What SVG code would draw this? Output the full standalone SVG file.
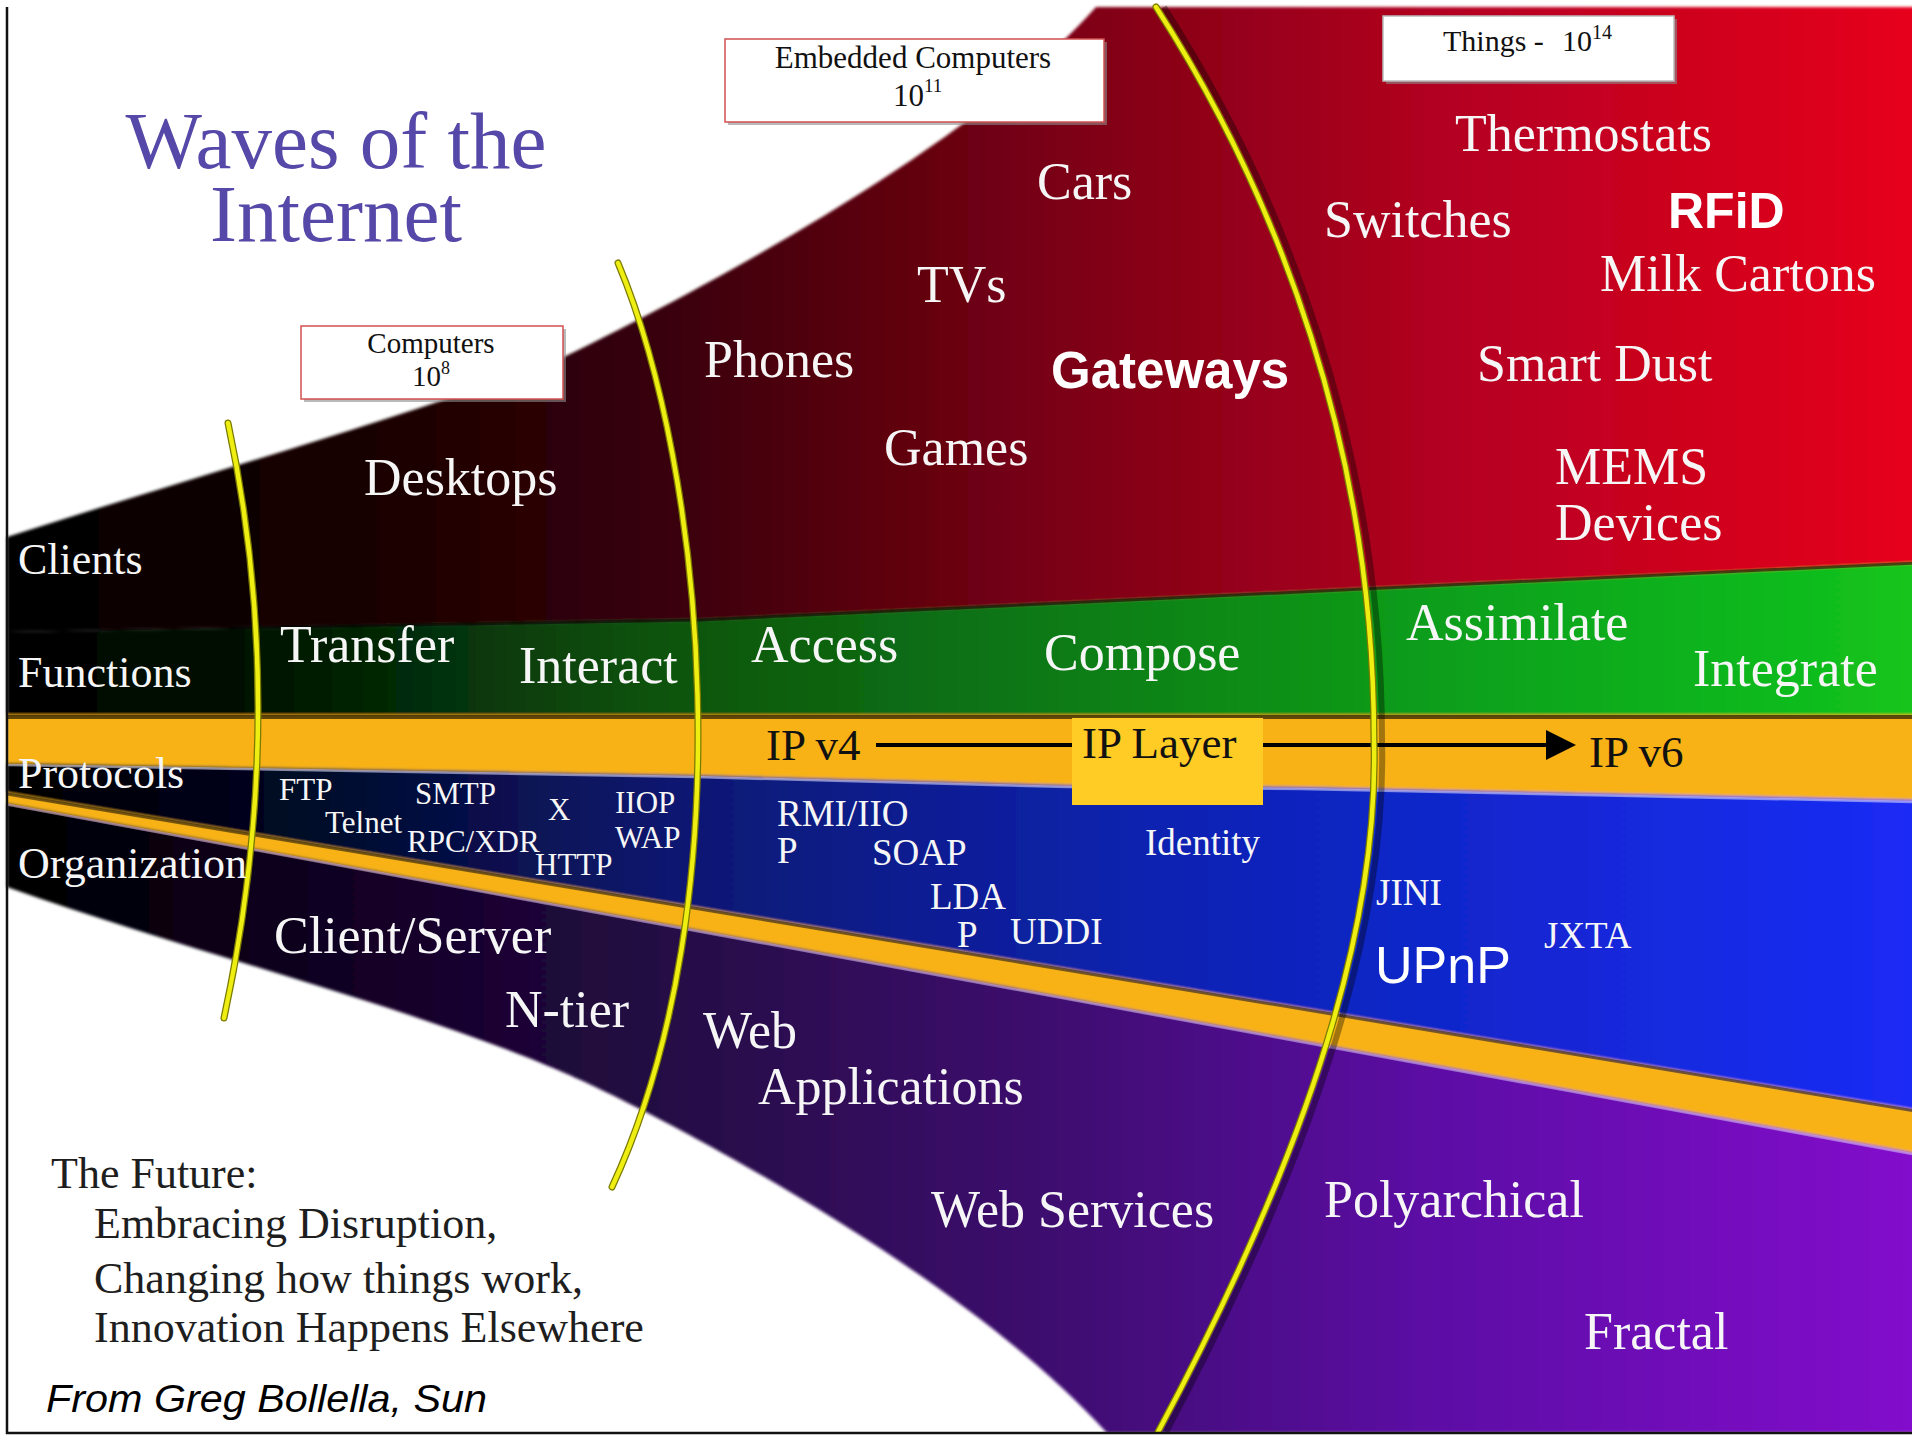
<svg xmlns="http://www.w3.org/2000/svg" width="1912" height="1437" viewBox="0 0 1912 1437">
<style>
.lbl{font-family:"Liberation Serif","Times New Roman",serif;fill:#f6f6f6;font-size:52px}
.side{font-size:44px}
.proto{font-size:31px}
.mid{font-size:37px}
.sans{font-family:"Liberation Sans",Arial,sans-serif;fill:#ffffff}
.ip{font-family:"Liberation Serif","Times New Roman",serif;fill:#111111;font-size:45px}
.boxtxt{font-family:"Liberation Serif","Times New Roman",serif;fill:#111111}
.future{font-family:"Liberation Serif","Times New Roman",serif;fill:#1e1e1e;font-size:44px}
.arc{fill:none;stroke:#eeee12;stroke-width:4.5;stroke-linecap:round}
.arcedge{fill:none;stroke:#7a7a00;stroke-width:7;stroke-linecap:round}
.arcshadow{fill:none;stroke:#000000;stroke-opacity:0.35;stroke-width:6}
.edge{fill:none}
</style>
<defs>
<linearGradient id="gRed" gradientUnits="userSpaceOnUse" x1="7" y1="0" x2="1911" y2="0">
<stop offset="0" stop-color="#000000"/><stop offset="0.2" stop-color="#1a0004"/><stop offset="0.35" stop-color="#3a0008"/><stop offset="0.55" stop-color="#7a0614"/><stop offset="0.75" stop-color="#b20620"/><stop offset="1" stop-color="#e6041e"/>
</linearGradient>
<linearGradient id="gGreen" gradientUnits="userSpaceOnUse" x1="7" y1="0" x2="1911" y2="0">
<stop offset="0" stop-color="#000000"/><stop offset="0.12" stop-color="#011001"/><stop offset="0.33" stop-color="#0a500e"/><stop offset="0.55" stop-color="#0a7a14"/><stop offset="0.75" stop-color="#0d9e1a"/><stop offset="1" stop-color="#12c41e"/>
</linearGradient>
<linearGradient id="gBlue" gradientUnits="userSpaceOnUse" x1="7" y1="0" x2="1911" y2="0">
<stop offset="0" stop-color="#000000"/><stop offset="0.12" stop-color="#02051a"/><stop offset="0.35" stop-color="#0a1870"/><stop offset="0.6" stop-color="#0b22b0"/><stop offset="1" stop-color="#1a2cf5"/>
</linearGradient>
<linearGradient id="gPurple" gradientUnits="userSpaceOnUse" x1="7" y1="0" x2="1911" y2="0">
<stop offset="0" stop-color="#000000"/><stop offset="0.12" stop-color="#0a0218"/><stop offset="0.35" stop-color="#250845"/><stop offset="0.55" stop-color="#3e0a70"/><stop offset="0.75" stop-color="#5c0aa5"/><stop offset="1" stop-color="#8208cc"/>
</linearGradient>
<filter id="soft" x="-2%" y="-2%" width="104%" height="104%"><feGaussianBlur stdDeviation="1.4"/></filter>
<marker id="head" viewBox="0 0 10 10" refX="0" refY="5" markerWidth="37" markerHeight="30" markerUnits="userSpaceOnUse" orient="auto"><path d="M0,0 L10,5 L0,10 Z" fill="#000000"/></marker>
</defs>
<rect x="0" y="0" width="1912" height="1437" fill="#ffffff"/>

<g id="bands" filter="url(#soft)">
<path id="band-clients" d="M7,537 C190,478 380,425 558,360 C650,315 960,160 1096,7 L1915,7 L1915,563 L1300,592 L700,620 L230,628 L7,632 Z" fill="url(#gRed)"/>
<path id="band-functions" d="M7,632 L230,628 L700,620 L1300,592 L1915,563 L1915,716 L7,716 Z" fill="url(#gGreen)"/>
<path id="band-ip" d="M7,715 L1915,715 L1915,800 L1300,787 L1067,785 L694,775 L7,763 Z" fill="#f8b212"/>
<path id="band-protocols" d="M7,763 L694,775 L1067,785 L1300,787 L1915,800 L1915,1110 L7,793 Z" fill="url(#gBlue)"/>
<path id="band-stripe" d="M7,793 L1915,1110 L1915,1153 L7,803 Z" fill="#f8b212"/>
<path id="band-organization" d="M7,803 L1915,1153 L1915,1433 L1107,1433 C960,1270 650,1109 558,1070 C400,1003 190,952 7,887 Z" fill="url(#gPurple)"/>
</g>
<g id="band-edges" class="edge">
<path d="M230,628 L700,620 L1300,592 L1915,563" stroke="#000000" stroke-opacity="0.55" stroke-width="3"/>
<path d="M7,717 H1915" stroke="#000000" stroke-opacity="0.6" stroke-width="4"/>
<path d="M7,765 L694,777 L1067,787 L1300,789 L1915,802" stroke="#cdd6ff" stroke-opacity="0.55" stroke-width="2.5"/>
<path d="M7,794 L1915,1111" stroke="#000000" stroke-opacity="0.5" stroke-width="3"/>
<path d="M7,804.5 L1915,1154.5" stroke="#d8b8ff" stroke-opacity="0.5" stroke-width="2.5"/>
</g>

<g id="ip-layer-box">
<rect x="1072" y="718" width="191" height="87" fill="#ffcb25"/>
<text class="ip" x="1082" y="758" font-size="46">IP Layer</text>
</g>

<g id="connectors">
<path d="M876,745 H1072" stroke="#000000" stroke-width="4" fill="none"/>
<path d="M1263,745 H1546" stroke="#000000" stroke-width="4" fill="none" marker-end="url(#head)"/>
</g>

<g id="waves">
<path class="arcedge" d="M228,423 Q290,713 224,1018"/>
<path class="arc" d="M228,423 Q290,713 224,1018"/>
<path class="arcedge" d="M618,263 C705,470 745,900 612,1187"/>
<path class="arc" d="M618,263 C705,470 745,900 612,1187"/>
<path class="arcshadow" transform="translate(8,0)" d="M1156,7 C1278,197 1374,450 1374,740 C1378,900 1330,1110 1158,1432"/>
<path class="arcedge" d="M1156,7 C1278,197 1374,450 1374,740 C1378,900 1330,1110 1158,1432"/>
<path class="arc" d="M1156,7 C1278,197 1374,450 1374,740 C1378,900 1330,1110 1158,1432"/>
</g>

<g id="title">
<text x="336" y="168" text-anchor="middle" font-family="Liberation Serif, Times New Roman, serif" font-size="81" fill="#5548a8">Waves of the</text>
<text x="336" y="241" text-anchor="middle" font-family="Liberation Serif, Times New Roman, serif" font-size="81" fill="#5548a8">Internet</text>
</g>

<g id="box-computers">
<rect x="304" y="329" width="262" height="73" fill="#8a8a8a" opacity="0.6"/>
<rect x="301" y="326" width="262" height="73" fill="#ffffff" stroke="#d05050" stroke-width="1.5"/>
<text class="boxtxt" x="431" y="353" text-anchor="middle" font-size="29">Computers</text>
<text class="boxtxt" x="412" y="386" font-size="29">10<tspan dy="-12" font-size="18">8</tspan></text>
</g>

<g id="box-embedded">
<rect x="728" y="42" width="379" height="83" fill="#8a8a8a" opacity="0.6"/>
<rect x="725" y="39" width="379" height="83" fill="#ffffff" stroke="#d05050" stroke-width="1.5"/>
<text class="boxtxt" x="913" y="68" text-anchor="middle" font-size="31">Embedded Computers</text>
<text class="boxtxt" x="893" y="106" font-size="31">10<tspan dy="-14" font-size="19">11</tspan></text>
</g>

<g id="box-things">
<rect x="1386" y="19" width="291" height="65" fill="#8a8a8a" opacity="0.6"/>
<rect x="1383" y="16" width="291" height="65" fill="#ffffff" stroke="#bbbbbb" stroke-width="1.5"/>
<text class="boxtxt" x="1443" y="51" font-size="30">Things -<tspan x="1562">10</tspan><tspan dy="-12" font-size="20">14</tspan></text>
</g>

<g id="row-labels">
<text class="lbl side" x="18" y="574">Clients</text>
<text class="lbl side" x="18" y="687">Functions</text>
<text class="lbl side" x="18" y="788">Protocols</text>
<text class="lbl side" x="18" y="878">Organization</text>
</g>

<g id="wave1-labels">
<text class="lbl" x="364" y="495">Desktops</text>
<text class="lbl" x="280" y="662">Transfer</text>
<text class="lbl" x="519" y="683">Interact</text>
<text class="lbl proto" x="279" y="800">FTP</text>
<text class="lbl proto" x="415" y="804">SMTP</text>
<text class="lbl proto" x="325" y="833">Telnet</text>
<text class="lbl proto" x="407" y="852">RPC/XDR</text>
<text class="lbl proto" x="548" y="820">X</text>
<text class="lbl proto" x="615" y="813">IIOP</text>
<text class="lbl proto" x="615" y="848">WAP</text>
<text class="lbl proto" x="535" y="875">HTTP</text>
<text class="lbl" x="274" y="953">Client/Server</text>
<text class="lbl" x="505" y="1027">N-tier</text>
</g>

<g id="wave2-labels">
<text class="lbl" x="704" y="377">Phones</text>
<text class="lbl" x="917" y="302">TVs</text>
<text class="lbl" x="1037" y="199">Cars</text>
<text class="lbl" x="884" y="465">Games</text>
<text class="sans" x="1051" y="388" font-size="51" font-weight="bold">Gateways</text>
<text class="lbl" x="751" y="662">Access</text>
<text class="lbl" x="1044" y="670">Compose</text>
<text class="ip" x="766" y="760">IP v4</text>
<text class="lbl mid" x="777" y="826">RMI/IIO</text>
<text class="lbl mid" x="777" y="863">P</text>
<text class="lbl mid" x="872" y="865">SOAP</text>
<text class="lbl mid" x="1145" y="855">Identity</text>
<text class="lbl mid" x="930" y="909">LDA</text>
<text class="lbl mid" x="957" y="947">P</text>
<text class="lbl mid" x="1010" y="944">UDDI</text>
<text class="lbl" x="703" y="1048">Web</text>
<text class="lbl" x="758" y="1104">Applications</text>
<text class="lbl" x="931" y="1227">Web Services</text>
</g>

<g id="wave3-labels">
<text class="lbl" x="1455" y="151">Thermostats</text>
<text class="lbl" x="1324" y="237">Switches</text>
<text class="sans" x="1668" y="228" font-size="50" font-weight="bold">RFiD</text>
<text class="lbl" x="1600" y="291">Milk Cartons</text>
<text class="lbl" x="1477" y="381">Smart Dust</text>
<text class="lbl" x="1555" y="484">MEMS</text>
<text class="lbl" x="1555" y="540">Devices</text>
<text class="lbl" x="1406" y="640">Assimilate</text>
<text class="lbl" x="1693" y="686">Integrate</text>
<text class="ip" x="1589" y="767">IP v6</text>
<text class="lbl mid" x="1376" y="905" font-size="40">JINI</text>
<text class="sans" x="1375" y="983" font-size="52">UPnP</text>
<text class="lbl mid" x="1544" y="948" font-size="40">JXTA</text>
<text class="lbl" x="1324" y="1217">Polyarchical</text>
<text class="lbl" x="1584" y="1349">Fractal</text>
</g>

<g id="future-note">
<text class="future" x="51" y="1188">The Future:</text>
<text class="future" x="94" y="1238">Embracing Disruption,</text>
<text class="future" x="94" y="1293">Changing how things work,</text>
<text class="future" x="94" y="1342">Innovation Happens Elsewhere</text>
<text x="46" y="1412" font-family="Liberation Sans, Arial, sans-serif" font-style="italic" font-size="38" fill="#000000" textLength="441" lengthAdjust="spacingAndGlyphs">From Greg Bollella, Sun</text>
</g>

<g id="frame">
<rect x="0" y="1434" width="1912" height="3" fill="#ffffff"/>
<path d="M7,7 V1433 H1912" fill="none" stroke="#111111" stroke-width="2.5"/>
</g>
</svg>
